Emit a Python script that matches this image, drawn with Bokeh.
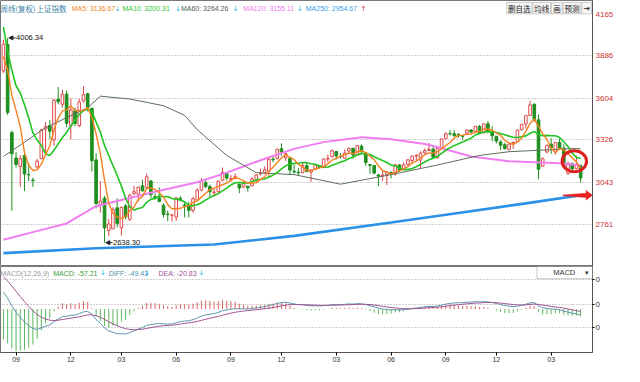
import numpy as np
from bokeh.plotting import figure
from bokeh.layouts import column
from bokeh.models import Range1d, FixedTicker, Label, BoxAnnotation, Arrow, NormalHead
from bokeh.embed import file_html
from bokeh.resources import INLINE

# ---------------- data (weekly bars, Shanghai Composite) ----------------
opens = [3786, 3962, 3373, 3204, 3148, 3220, 3093, 3057, 3143, 3200, 3397, 3421, 3325, 3597, 3563, 3630, 3420, 3519, 3420, 3585,
         3634, 3536, 3191, 2890, 2936, 2720, 2731, 2871, 2738, 2884, 2795, 2966, 2963, 3019, 3007, 3050, 2946, 2938, 2888, 2830,
         2822, 2809, 2935, 2890, 2888, 2853, 2924, 2989, 3040, 3013, 2973, 2979, 3055, 3099, 3061, 3069, 3029, 3010, 3016, 3018,
         3061, 3098, 3106, 3117, 3196, 3201, 3266, 3206, 3203, 3115, 3108, 3105, 3153, 3110, 3127, 3151, 3140, 3197, 3212, 3247,
         3214, 3203, 3251, 3269, 3228, 3283, 3238, 3160, 3153, 3091, 3085, 3093, 3108, 3097, 3158, 3128, 3161, 3187, 3216, 3190,
         3238, 3254, 3263, 3205, 3269, 3334, 3368, 3366, 3360, 3352, 3370, 3391, 3381, 3415, 3372, 3432, 3379, 3349, 3311, 3293,
         3261, 3299, 3314, 3392, 3431, 3488, 3564, 3459, 3149, 3244, 3296, 3243, 3309, 3269, 3102, 3168, 3133, 3155]
highs = [3994, 4006.34, 3388, 3243, 3223, 3237, 3168, 3073, 3198, 3400, 3447, 3457, 3597, 3678, 3660, 3655, 3603, 3540, 3600, 3684,
         3638, 3540, 3236, 3050, 2951, 2797, 2876, 2934, 2879, 2897, 2967, 3018, 3013, 3059, 3099, 3058, 2968, 3008, 2901, 2852,
         2832, 2939, 2951, 2905, 2912, 2945, 3003, 3070, 3056, 3026, 2998, 3050, 3140, 3105, 3090, 3101, 3029, 3057, 3018, 3076,
         3096, 3134, 3148, 3210, 3220, 3267, 3301, 3249, 3203, 3160, 3137, 3171, 3173, 3129, 3162, 3154, 3199, 3227, 3262, 3250,
         3238, 3262, 3272, 3270, 3287, 3295, 3238, 3160, 3153, 3098, 3119, 3116, 3115, 3162, 3162, 3174, 3193, 3217, 3229, 3248,
         3268, 3305, 3282, 3269, 3332, 3377, 3391, 3390, 3372, 3355, 3392, 3397, 3418, 3425, 3433, 3451, 3418, 3350, 3322, 3306,
         3300, 3315, 3392, 3430, 3488, 3587, 3565, 3494, 3208, 3292, 3336, 3308, 3333, 3295, 3180, 3169, 3220, 3159]
lows = [3772, 3490, 2851, 3140, 3011, 2983, 3049, 3011, 3133, 3196, 3226, 3331, 3286, 3563, 3540, 3409, 3327, 3416, 3410, 3573,
        3515, 3115, 2868, 2839, 2638.30, 2682, 2730, 2740, 2687, 2794, 2783, 2956, 2915, 2980, 3004, 2938, 2925, 2913, 2806, 2781,
        2780, 2784, 2916, 2807, 2807, 2839, 2922, 2982, 3003, 2942, 2947, 2972, 3050, 3052, 3046, 3063, 2969, 3004, 2980, 3018,
        3034, 3087, 3096, 3073, 3175, 3194, 3219, 3183, 3091, 3101, 3089, 3105, 3110, 3044, 3125, 3135, 3137, 3176, 3211, 3194,
        3201, 3200, 3228, 3200, 3228, 3235, 3152, 3098, 3095, 3016, 3051, 3022, 3067, 3086, 3112, 3120, 3152, 3168, 3184, 3133,
        3229, 3253, 3201, 3200, 3261, 3330, 3354, 3346, 3340, 3328, 3362, 3367, 3371, 3366, 3369, 3375, 3316, 3302, 3256, 3261,
        3254, 3264, 3314, 3390, 3400, 3486, 3447, 3062, 3149, 3236, 3231, 3226, 3269, 3152, 3091, 3116, 3128, 3041]
closes = [3965, 3508, 3232, 3160, 3200, 3097, 3092, 3053, 3183, 3391, 3412, 3383, 3590, 3580, 3630, 3436, 3525, 3435, 3578, 3627,
          3539, 3186, 2900, 2916, 2737, 2763, 2860, 2767, 2874, 2810, 2955, 2979, 3009, 2985, 3078, 2959, 2938, 2913, 2827, 2826,
          2822, 2938, 2927, 2885, 2854, 2932, 2988, 3054, 3013, 2979, 2977, 3050, 3108, 3070, 3067, 3079, 3003, 3033, 3005, 3064,
          3091, 3104, 3125, 3196, 3192, 3262, 3243, 3232, 3123, 3110, 3104, 3154, 3113, 3123, 3159, 3140, 3197, 3202, 3253, 3218,
          3213, 3237, 3269, 3223, 3287, 3246, 3173, 3155, 3103, 3083, 3090, 3110, 3105, 3158, 3123, 3158, 3192, 3217, 3222, 3237,
          3253, 3262, 3209, 3268, 3331, 3365, 3365, 3353, 3352, 3349, 3391, 3378, 3416, 3371, 3432, 3382, 3353, 3317, 3289, 3266,
          3297, 3307, 3391, 3429, 3487, 3558, 3462, 3129, 3199, 3289, 3273, 3307, 3269, 3153, 3169, 3131, 3159, 3071]
prior_closes = [5166.35, 4478.36, 4192.87, 3686.92, 3877.80, 3957.35, 4070.91, 3663.73, 3744.20]

# long moving averages (bar index, value)
ma60_idx = [0, 10, 20, 23, 30, 38, 43, 46, 53, 60, 69, 80, 92, 103, 113, 120, 136, 137]
ma60_val = [3214, 3406, 3540, 3617, 3598, 3553, 3489, 3393, 3221, 3106, 3093, 3029, 3093, 3157, 3221, 3246, 3268, 3264.26]
ma120_idx = [0, 7, 15, 22, 36, 46, 53, 61, 69, 76, 85, 92, 100, 103, 111, 120, 132, 137]
ma120_val = [2658, 2709, 2767, 2882, 2978, 3042, 3106, 3189, 3265, 3310, 3342, 3329, 3297, 3278, 3214, 3182, 3169, 3155.11]
ma250_idx = [0, 22, 50, 69, 92, 108, 124, 137]
ma250_val = [2569, 2601, 2626, 2684, 2773, 2837, 2901, 2954.67]

# MACD seeds (state before the first bar)
ema12_seed, ema26_seed, dea_seed = 4000.0, 3850.0, 291.0

price_ticks = [2761, 3043, 3326, 3604, 3886, 4165]
macd_ticks = [240, 40, -150]
month_idx = [3, 16, 28, 41, 54, 66, 79, 92, 105, 117, 130]
month_lbl = ["09", "12", "03", "06", "09", "12", "03", "06", "09", "12", "03"]

hdr_main = [(0, "周线(复权)", "#3d7fa6"), (37, "上证指数", "#3d7fa6"),
            (73, "MA5: 3136.67", "#f0851e"), (117, "↓", "#27b7e6"),
            (125, "MA10: 3200.31", "#2fc42f"), (179, "↓", "#27b7e6"),
            (185, "MA60: 3264.26", "#4f5f4f"), (238, "↓", "#27b7e6"),
            (249, "MA120: 3155.11", "#ee7cee"), (304, "↓", "#27b7e6"),
            (313, "MA250: 2954.67", "#3a9fe6"), (369, "↑", "#e02a2a")]
hdr_macd = [(0, "MACD(12,26,9)", "#9a9a9a"), (54, "MACD: -57.21", "#3a9a3a"), (102, "↓", "#27b7e6"),
            (111, "DIFF: -49.43", "#4a8fa8"), (147, "↓", "#27b7e6"),
            (162, "DEA: -20.83", "#a0509a"), (203, "↓", "#27b7e6")]
buttons = [(519, 545, "删自选"), (546, 564, "均线"), (565, 576, "画"), (577, 595, "预测"), (596, 606, "⇥")]

# ---------------- derived series ----------------
N = len(closes)
idx = np.arange(N)
o = np.array(opens, float); h = np.array(highs, float); l = np.array(lows, float); c = np.array(closes, float)
all_c = np.array(prior_closes + closes, float)
ma5 = np.convolve(all_c, np.ones(5) / 5, mode="valid")[-N:]
ma10 = np.convolve(all_c, np.ones(10) / 10, mode="valid")[-N:]

e12, e26, dea = ema12_seed, ema26_seed, dea_seed
diff_s, dea_s = [], []
for v in c:
    e12 += 2 / 13 * (v - e12)
    e26 += 2 / 27 * (v - e26)
    d = e12 - e26
    dea += 0.2 * (d - dea)
    diff_s.append(d); dea_s.append(dea)
diff_s = np.array(diff_s); dea_s = np.array(dea_s)
hist = 2 * (diff_s - dea_s)

# ---------------- layout helpers (reference pixel -> data) ----------------
BAR0_PX, PX_PER_BAR, FRAME_PX = 3.0, 4.32, 607.0
P_TOP, UNITS_PER_PX, MAIN_PX = 4255.8, 6.39, 278.0
ZERO_PX, MPX = 323.5, 0.1326


def xr(px):
    return (px - BAR0_PX) / PX_PER_BAR


def yp(py):
    return P_TOP - py * UNITS_PER_PX


def ym(py):
    return (ZERO_PX - py) / MPX


RED, GREEN = "#e04848", "#1f8f1f"
LATIN, CJK, SYM = "Liberation Sans", "Noto Sans CJK SC", "DejaVu Sans"

x_range = Range1d(xr(0), xr(FRAME_PX))

# ---------------- main price panel ----------------
p = figure(frame_width=592, frame_height=266, x_range=x_range,
           y_range=Range1d(yp(MAIN_PX), P_TOP),
           x_axis_location=None, y_axis_location="right",
           toolbar_location=None, output_backend="svg",
           min_border_left=0, min_border_right=32, min_border_top=0, min_border_bottom=0,
           background_fill_color="white", border_fill_color="white")
p.outline_line_color = "#777"
p.xgrid.visible = False
p.ygrid.ticker = FixedTicker(ticks=price_ticks[:-1])
p.ygrid.grid_line_color = "#a0a0a0"
p.ygrid.grid_line_dash = "1 2"
ax = p.yaxis[0]
ax.ticker = FixedTicker(ticks=price_ticks)
ax.major_label_text_color = "#cc3333"
ax.major_label_text_font_size = "8px"
ax.major_label_text_font = LATIN
ax.major_tick_out = 0
ax.major_tick_in = 0
ax.minor_tick_out = 0
ax.minor_tick_in = 0
ax.major_label_standoff = 3
ax.axis_line_color = "#555"

up = c >= o
wick_col = np.where(up, RED, GREEN)
p.segment(x0=idx, y0=l, x1=idx, y1=h, line_color=list(wick_col), line_width=1)
p.vbar(x=idx[up], width=0.62, top=np.maximum(o, c)[up], bottom=np.minimum(o, c)[up],
       fill_color="white", line_color=RED, line_width=1)
p.vbar(x=idx[~up], width=0.62, top=np.maximum(o, c)[~up], bottom=np.minimum(o, c)[~up],
       fill_color=GREEN, line_color=GREEN, line_width=1)

p.line(ma250_idx, ma250_val, line_color="#2a90e8", line_width=2.6)
p.line(ma120_idx, ma120_val, line_color="#f07ef0", line_width=2)
p.line(ma60_idx, ma60_val, line_color="#5a705a", line_width=1)
p.line(idx, ma10, line_color="#22c422", line_width=1.6)
p.line(idx, ma5, line_color="#f5821f", line_width=1.4)

# high / low markers
imax = int(np.argmax(h)); imin = int(np.argmin(l))
for i, yv in ((imax, h[imax]), (imin, l[imin])):
    p.add_layout(Arrow(end=NormalHead(size=4, fill_color="#222", line_color="#222"),
                       x_start=i + 1.9, y_start=yv, x_end=i + 0.3, y_end=yv,
                       line_color="#222", line_width=1))
    p.add_layout(Label(x=i + 2.0, y=yv, text=f"{yv:.2f}", text_baseline="middle",
                       text_font_size="7.5px", text_font=LATIN, text_color="#111"))

# red ellipse around the last bars, red arrow from MA250
cx = float(np.mean(idx[-4:])); cy = float(np.mean(h[-4:]))
p.ellipse(x=[cx], y=[cy], width=5.8, height=140, fill_color=None, line_color="#e01e1e", line_width=3)
ya = ma250_val[-1]; x0 = N - 1 - 4.2; xb = N - 1 + 1.3; xt = xr(FRAME_PX)
p.patch([x0, xb, xb, xt, xb, xb, x0],
        [ya + 3, ya + 14, ya + 32, ya, ya - 32, ya - 14, ya - 3],
        fill_color="#e82020", line_color="#e82020", line_width=0.5)

# header
for px, txt, col in hdr_main:
    font = CJK if any(ord(ch) > 0x3000 for ch in txt) else (SYM if txt in "↓↑" else LATIN)
    size = "7.5px" if font == CJK else "7px"
    p.add_layout(Label(x=xr(px), y=yp(8.5), text=txt, text_color=col, text_font=font,
                       text_font_size=size, text_baseline="middle", text_align="left"))
for x_a, x_b, txt in buttons:
    p.add_layout(BoxAnnotation(left=xr(x_a), right=xr(x_b), top=yp(2), bottom=yp(14),
                               fill_color="#f4f4f4", fill_alpha=1, line_color="#666", line_width=1))
    p.add_layout(Label(x=xr((x_a + x_b) / 2), y=yp(8), text=txt, text_align="center",
                       text_baseline="middle", text_font=SYM if txt == "⇥" else CJK,
                       text_font_size="7.5px", text_color="#222"))

# ---------------- MACD panel ----------------
q = figure(frame_width=592, frame_height=86, x_range=x_range,
           y_range=Range1d(ym(370), ym(278)),
           x_axis_location="below", y_axis_location="right",
           toolbar_location=None, output_backend="svg",
           min_border_left=0, min_border_right=32, min_border_top=0, min_border_bottom=14,
           background_fill_color="white", border_fill_color="white")
q.outline_line_color = "#777"
q.xgrid.visible = False
q.ygrid.ticker = FixedTicker(ticks=macd_ticks)
q.ygrid.grid_line_color = "#a0a0a0"
q.ygrid.grid_line_dash = "1 2"
qa = q.yaxis[0]
qa.ticker = FixedTicker(ticks=macd_ticks)
qa.major_label_overrides = {t: "0" for t in macd_ticks}
qa.major_label_text_font_size = "8px"
qa.major_label_text_font = LATIN
qa.major_label_text_color = "#333"
qa.major_tick_out = 2
qa.major_tick_in = 0
qa.minor_tick_out = 0
qa.minor_tick_in = 0
qa.major_label_standoff = 1
qa.axis_line_color = "#555"
xa = q.xaxis[0]
xa.ticker = FixedTicker(ticks=month_idx)
xa.major_label_overrides = {i: s for i, s in zip(month_idx, month_lbl)}
xa.major_label_text_font_size = "7px"
xa.major_label_text_font = LATIN
xa.major_label_text_color = "#333"
xa.major_tick_out = 3
xa.major_tick_in = 0
xa.minor_tick_out = 0
xa.minor_tick_in = 0
xa.major_label_standoff = 1
xa.axis_line_color = "#555"

hcol = ["#e06464" if v >= 0 else "#5cb85c" for v in hist]
q.segment(x0=idx, y0=np.zeros(N), x1=idx, y1=hist, line_color=hcol, line_width=1)
q.line(idx, diff_s, line_color="#5f97ad", line_width=1)
q.line(idx, dea_s, line_color="#a05595", line_width=1)

for px, txt, col in hdr_macd:
    font = SYM if txt in "↓↑" else LATIN
    q.add_layout(Label(x=xr(px), y=ym(285), text=txt, text_color=col, text_font=font,
                       text_font_size="7px", text_baseline="middle", text_align="left"))
q.add_layout(BoxAnnotation(left=xr(550), right=xr(FRAME_PX), top=ym(278), bottom=ym(291),
                           fill_color="white", fill_alpha=1, line_color="#555", line_width=1))
q.add_layout(Label(x=xr(578), y=ym(284.5), text="MACD", text_align="center", text_baseline="middle",
                   text_font=LATIN, text_font_size="7.5px", text_color="#333"))
q.add_layout(Label(x=xr(601), y=ym(284.5), text="▾", text_align="center", text_baseline="middle",
                   text_font=SYM, text_font_size="7px", text_color="#333"))

layout = column(p, q, spacing=0)
open("out.html", "w").write(file_html(layout, INLINE))
